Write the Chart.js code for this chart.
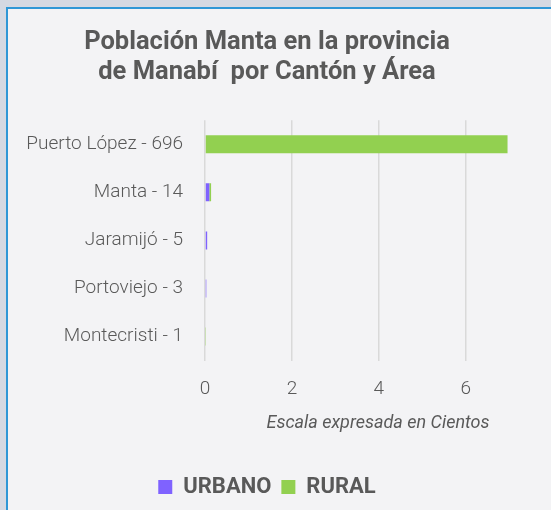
<!DOCTYPE html>
<html>
<head>
<meta charset="utf-8">
<script src="https://cdn.jsdelivr.net/npm/chart.js@4.4.1/dist/chart.umd.min.js"></script>
<style>
  html, body { margin: 0; padding: 0; background: #d5d9e2; overflow: hidden; }
  #frame {
    position: absolute; left: 6px; top: 7px; width: 600px; height: 560px;
    border-left: 2px solid #2f97d6; border-top: 2px solid #2f97d6;
    background: #f3f3f5;
  }
  #chart { position: absolute; left: 0; top: 0; }
</style>
</head>
<body>
<div id="frame"></div>
<canvas id="chart" width="551" height="510"></canvas>
<script>
const cantones = ['Puerto López - 696', 'Manta - 14', 'Jaramijó - 5', 'Portoviejo - 3', 'Montecristi - 1'];
// valores en cientos
const urbano = [0, 0.10, 0.05, 0.03, 0];
const rural = [6.96, 0.04, 0, 0, 0.01];
const xTicks = [0, 2, 4, 6];

const textColor = '#595959';
const font = 'Roboto, "Liberation Sans", sans-serif';

// the original chart is cropped on the right, so the plot runs to the canvas edge
const padLeft = -30;
const padRight = -13;

const ctx = document.getElementById('chart').getContext('2d');
window.popChart = new Chart(ctx, {
  type: 'bar',
  data: {
    labels: cantones,
    datasets: [
      {
        label: 'URBANO',
        data: urbano,
        backgroundColor: '#7f62ff',
        borderWidth: 0,
        barPercentage: 0.75,
        categoryPercentage: 0.5
      },
      {
        label: 'RURAL',
        data: rural,
        backgroundColor: '#92d050',
        borderWidth: 0,
        barPercentage: 0.75,
        categoryPercentage: 0.5
      }
    ]
  },
  options: {
    indexAxis: 'y',
    responsive: false,
    animation: false,
    layout: {
      padding: { left: padLeft, right: padRight, top: 0, bottom: 2 }
    },
    plugins: {
      title: {
        display: true,
        text: ['Población Manta en la provincia', 'de Manabí  por Cantón y Área'],
        color: textColor,
        font: { family: font, size: 25.5, weight: 'bold', lineHeight: 1.2 },
        padding: { top: 27, bottom: 32 }
      },
      legend: {
        position: 'bottom',
        labels: {
          color: textColor,
          font: { family: font, size: 22, weight: 'bold' },
          boxWidth: 14,
          boxHeight: 14,
          padding: 10
        }
      },
      tooltip: { enabled: false }
    },
    scales: {
      x: {
        stacked: true,
        min: 0,
        max: 7.96,
        afterBuildTicks: (scale) => {
          scale.ticks = xTicks.map((v) => ({ value: v }));
        },
        grid: { color: '#d9d9d9', lineWidth: 1.5, drawTicks: false },
        border: { display: false },
        ticks: {
          color: textColor,
          font: { family: font, size: 19, weight: '300' },
          padding: 17
        },
        title: {
          display: true,
          text: 'Escala expresada en Cientos',
          color: textColor,
          font: { family: font, size: 18, style: 'italic' },
          padding: { top: -5, bottom: 32 }
        }
      },
      y: {
        stacked: true,
        grid: { display: false, drawTicks: false },
        border: { display: false },
        ticks: {
          color: textColor,
          font: { family: font, size: 19, weight: '300' },
          padding: 22
        },
        afterFit: (scale) => {
          scale.width = 205 - padLeft;
        }
      }
    }
  }
});
</script>
</body>
</html>
